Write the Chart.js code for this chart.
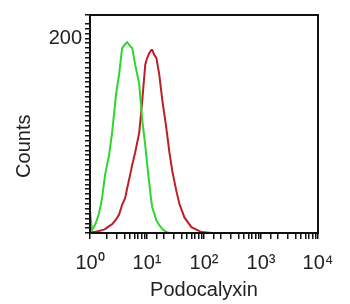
<!DOCTYPE html>
<html>
<head>
<meta charset="utf-8">
<script src="https://cdn.jsdelivr.net/npm/chart.js@4/dist/chart.umd.min.js"></script>
<style>
  html, body { margin: 0; padding: 0; background: #fff; }
  #wrap { width: 350px; height: 304px; }
</style>
</head>
<body>
<div id="wrap"><canvas id="histo"></canvas></div>
<script>
// fluorescence intensity (log scale) and cell counts
const fluorescence = [1.0, 1.08, 1.22, 1.44, 1.63, 1.84, 2.16, 2.44, 2.87, 3.24, 3.66, 4.14, 4.49, 5.07, 5.5, 6.21, 7.3, 8.25, 9.32, 10.1, 11.0, 11.9, 12.4, 13.4, 14.6, 16.4, 18.6, 21.8, 24.7, 27.9, 32.8, 37.0, 45.3, 60.2, 90.4, 136];
const isotypeCounts = [23, 3, 8, 20, 36, 60, 80, 103, 143, 163, 190, 194, 196, 192, 190, 173, 153, 116, 90, 70, 50, 33, 26, 20, 13, 8, 4, 1, 0, 0, 0, 0, 0, 0, 0, 0];
const podocalyxinCounts = [1, 1, 1, 2, 3, 4, 7, 9, 14, 19, 29, 36, 46, 60, 70, 83, 103, 136, 173, 180, 185, 188, 188, 183, 180, 163, 136, 108, 83, 63, 43, 30, 16, 6, 1, 0];

const xTickLabels = { 1: '10⁰', 10: '10¹', 100: '10²', 1000: '10³', 10000: '10⁴' };
const yTickLabels = { 200: '200' };

function toPoints(counts) {
  return fluorescence.map((x, i) => ({ x: x, y: counts[i] }));
}

const frameBox = {
  id: 'frameBox',
  afterDraw(chart) {
    const a = chart.chartArea, ctx = chart.ctx;
    ctx.save();
    ctx.strokeStyle = '#111';
    ctx.lineWidth = 2;
    ctx.strokeRect(a.left, a.top, a.right - a.left, a.bottom - a.top);
    ctx.restore();
  }
};

const config = {
  type: 'line',
  data: {
    datasets: [{
      label: 'Isotype control',
      data: toPoints(isotypeCounts),
      borderColor: 'rgb(45, 215, 45)',
      borderWidth: 2,
      pointRadius: 0,
      tension: 0
    }, {
      label: 'Podocalyxin',
      data: toPoints(podocalyxinCounts),
      borderColor: 'rgb(190, 30, 40)',
      borderWidth: 2,
      pointRadius: 0,
      tension: 0
    }]
  },
  options: {
    animation: false,
    responsive: true,
    maintainAspectRatio: false,
    layout: { padding: { top: 10, right: 32, left: 0, bottom: 0 } },
    scales: {
      x: {
        type: 'logarithmic',
        min: 1,
        max: 10000,
        afterFit(scale) { scale.height = 71; },
        border: { display: true, color: '#111', width: 2 },
        grid: { drawOnChartArea: false, color: '#111', tickLength: 6, lineWidth: 1.5 },
        ticks: {
          autoSkip: false,
          maxRotation: 0,
          padding: 12,
          color: '#222',
          font: { family: 'Liberation Sans, Arial', size: 20 },
          callback: function(value) { return xTickLabels[value] || ''; }
        },
        title: {
          display: true,
          text: 'Podocalyxin',
          color: '#222',
          font: { family: 'Liberation Sans, Arial', size: 20 },
          padding: { top: 0, bottom: 2 }
        }
      },
      y: {
        min: 0,
        max: 224,
        afterFit(scale) { scale.width = 90; },
        border: { display: true, color: '#111', width: 2 },
        grid: { drawOnChartArea: false, color: '#111', tickLength: 5, lineWidth: 1.5 },
        ticks: {
          stepSize: 5,
          autoSkip: false,
          padding: 3,
          color: '#222',
          font: { family: 'Liberation Sans, Arial', size: 20 },
          callback: function(value) { return yTickLabels[value] || ''; }
        },
        title: {
          display: true,
          text: 'Counts        ',
          color: '#222',
          font: { family: 'Liberation Sans, Arial', size: 20 },
          padding: { top: 12, bottom: 0 }
        }
      }
    },
    plugins: {
      legend: { display: false },
      tooltip: { enabled: false }
    }
  },
  plugins: [frameBox]
};

var histoChart = new Chart(document.getElementById('histo'), config);
</script>
</body>
</html>
